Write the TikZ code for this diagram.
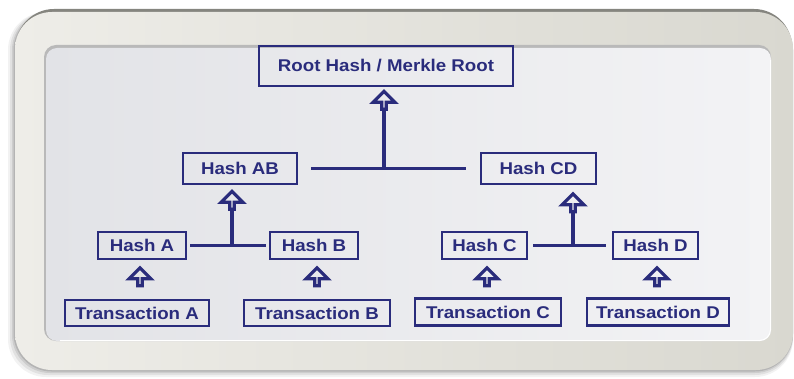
\documentclass[tikz,border=0pt]{standalone}
\usepackage{fontspec}
\setmainfont{Liberation Sans}[FakeStretch=1.1]
\usetikzlibrary{shapes.arrows}

\definecolor{navy}{HTML}{2A2C7C}
\definecolor{frameL}{HTML}{EEEDE8}
\definecolor{frameR}{HTML}{D9D8D0}
\definecolor{rim}{HTML}{85857F}
\definecolor{panelL}{HTML}{E2E3E7}
\definecolor{panelR}{HTML}{F3F3F5}

\tikzset{
  box/.style={draw=navy, line width=2.8pt, text=navy, inner sep=0pt,
    font=\bfseries\fontsize{17}{19}\selectfont},
  uparrow/.style={single arrow, draw=navy, line width=3.2pt,
    shape border rotate=90, minimum height=18pt, minimum width=22pt,
    single arrow head extend=6pt, single arrow tip angle=90, inner sep=0pt},
  stem/.style={draw=navy, line width=3.2pt},
}

\begin{document}
\begin{tikzpicture}[x=1pt,y=-1pt]
\useasboundingbox (0,0) rectangle (794,379);

% soft outer shadow of the frame
\foreach \d/\o in {7/0.05,5/0.07,3/0.09,1.5/0.12}
  \fill[black, opacity=\o, rounded corners=38pt]
    (15-\d,12) rectangle (793,370+\d);

% frame with its darker upper rim
\fill[rim, rounded corners=38pt] (16,9) rectangle (792,368);
\shade[left color=frameL, right color=frameR, rounded corners=37pt]
  (15,12) rectangle (793,370);

% recessed inner panel
\fill[gray!55, rounded corners=12pt] (44,45) rectangle (771,341);
\shade[left color=panelL, right color=panelR, rounded corners=11pt]
  (46,48) rectangle (771,341);
\draw[white, line width=1pt, rounded corners=11pt]
  (60,340.5) -- (770.5,340.5) -- (770.5,60);

% tree nodes
\node[box, minimum width=254pt, minimum height=40pt] (root) at (386,66) {Root Hash / Merkle Root};

\node[box, minimum width=114pt, minimum height=31pt] (hAB) at (240,168.5) {Hash AB};
\node[box, minimum width=115pt, minimum height=31pt] (hCD) at (538.5,168.5) {Hash CD};

\node[box, minimum width=88pt, minimum height=27pt] (hA) at (142,245.5) {Hash A};
\node[box, minimum width=88pt, minimum height=27pt] (hB) at (314,245.5) {Hash B};
\node[box, minimum width=85pt, minimum height=27pt] (hC) at (484.5,245.5) {Hash C};
\node[box, minimum width=85pt, minimum height=27pt] (hD) at (655.5,245.5) {Hash D};

\node[box, minimum width=144pt, minimum height=26pt] (tA) at (137,313) {Transaction A};
\node[box, minimum width=146pt, minimum height=26pt] (tB) at (317,313) {Transaction B};
\node[box, minimum width=146pt, minimum height=27pt] (tC) at (488,312) {Transaction C};
\node[box, minimum width=142pt, minimum height=27pt] (tD) at (658,312) {Transaction D};

% hollow arrows
\node[uparrow] (aRoot) at (384,101.5) {};
\node[uparrow] (aAB) at (232,201.5) {};
\node[uparrow] (aCD) at (573,204) {};
\node[uparrow] (aA) at (140,278) {};
\node[uparrow] (aB) at (317,278) {};
\node[uparrow] (aC) at (487,278) {};
\node[uparrow] (aD) at (657,278) {};

% pair links and stems
\draw[stem] ([xshift=13pt]hAB.east) -- ([xshift=-14pt]hCD.west);
\draw[stem] (aRoot.tail) -- (aRoot.tail |- hAB.east);

\draw[stem] ([xshift=3pt]hA.east) -- ([xshift=-3pt]hB.west);
\draw[stem] (aAB.tail) -- (aAB.tail |- hA.east);

\draw[stem] ([xshift=5pt]hC.east) -- ([xshift=-6pt]hD.west);
\draw[stem] (aCD.tail) -- (aCD.tail |- hC.east);
\end{tikzpicture}
\end{document}
